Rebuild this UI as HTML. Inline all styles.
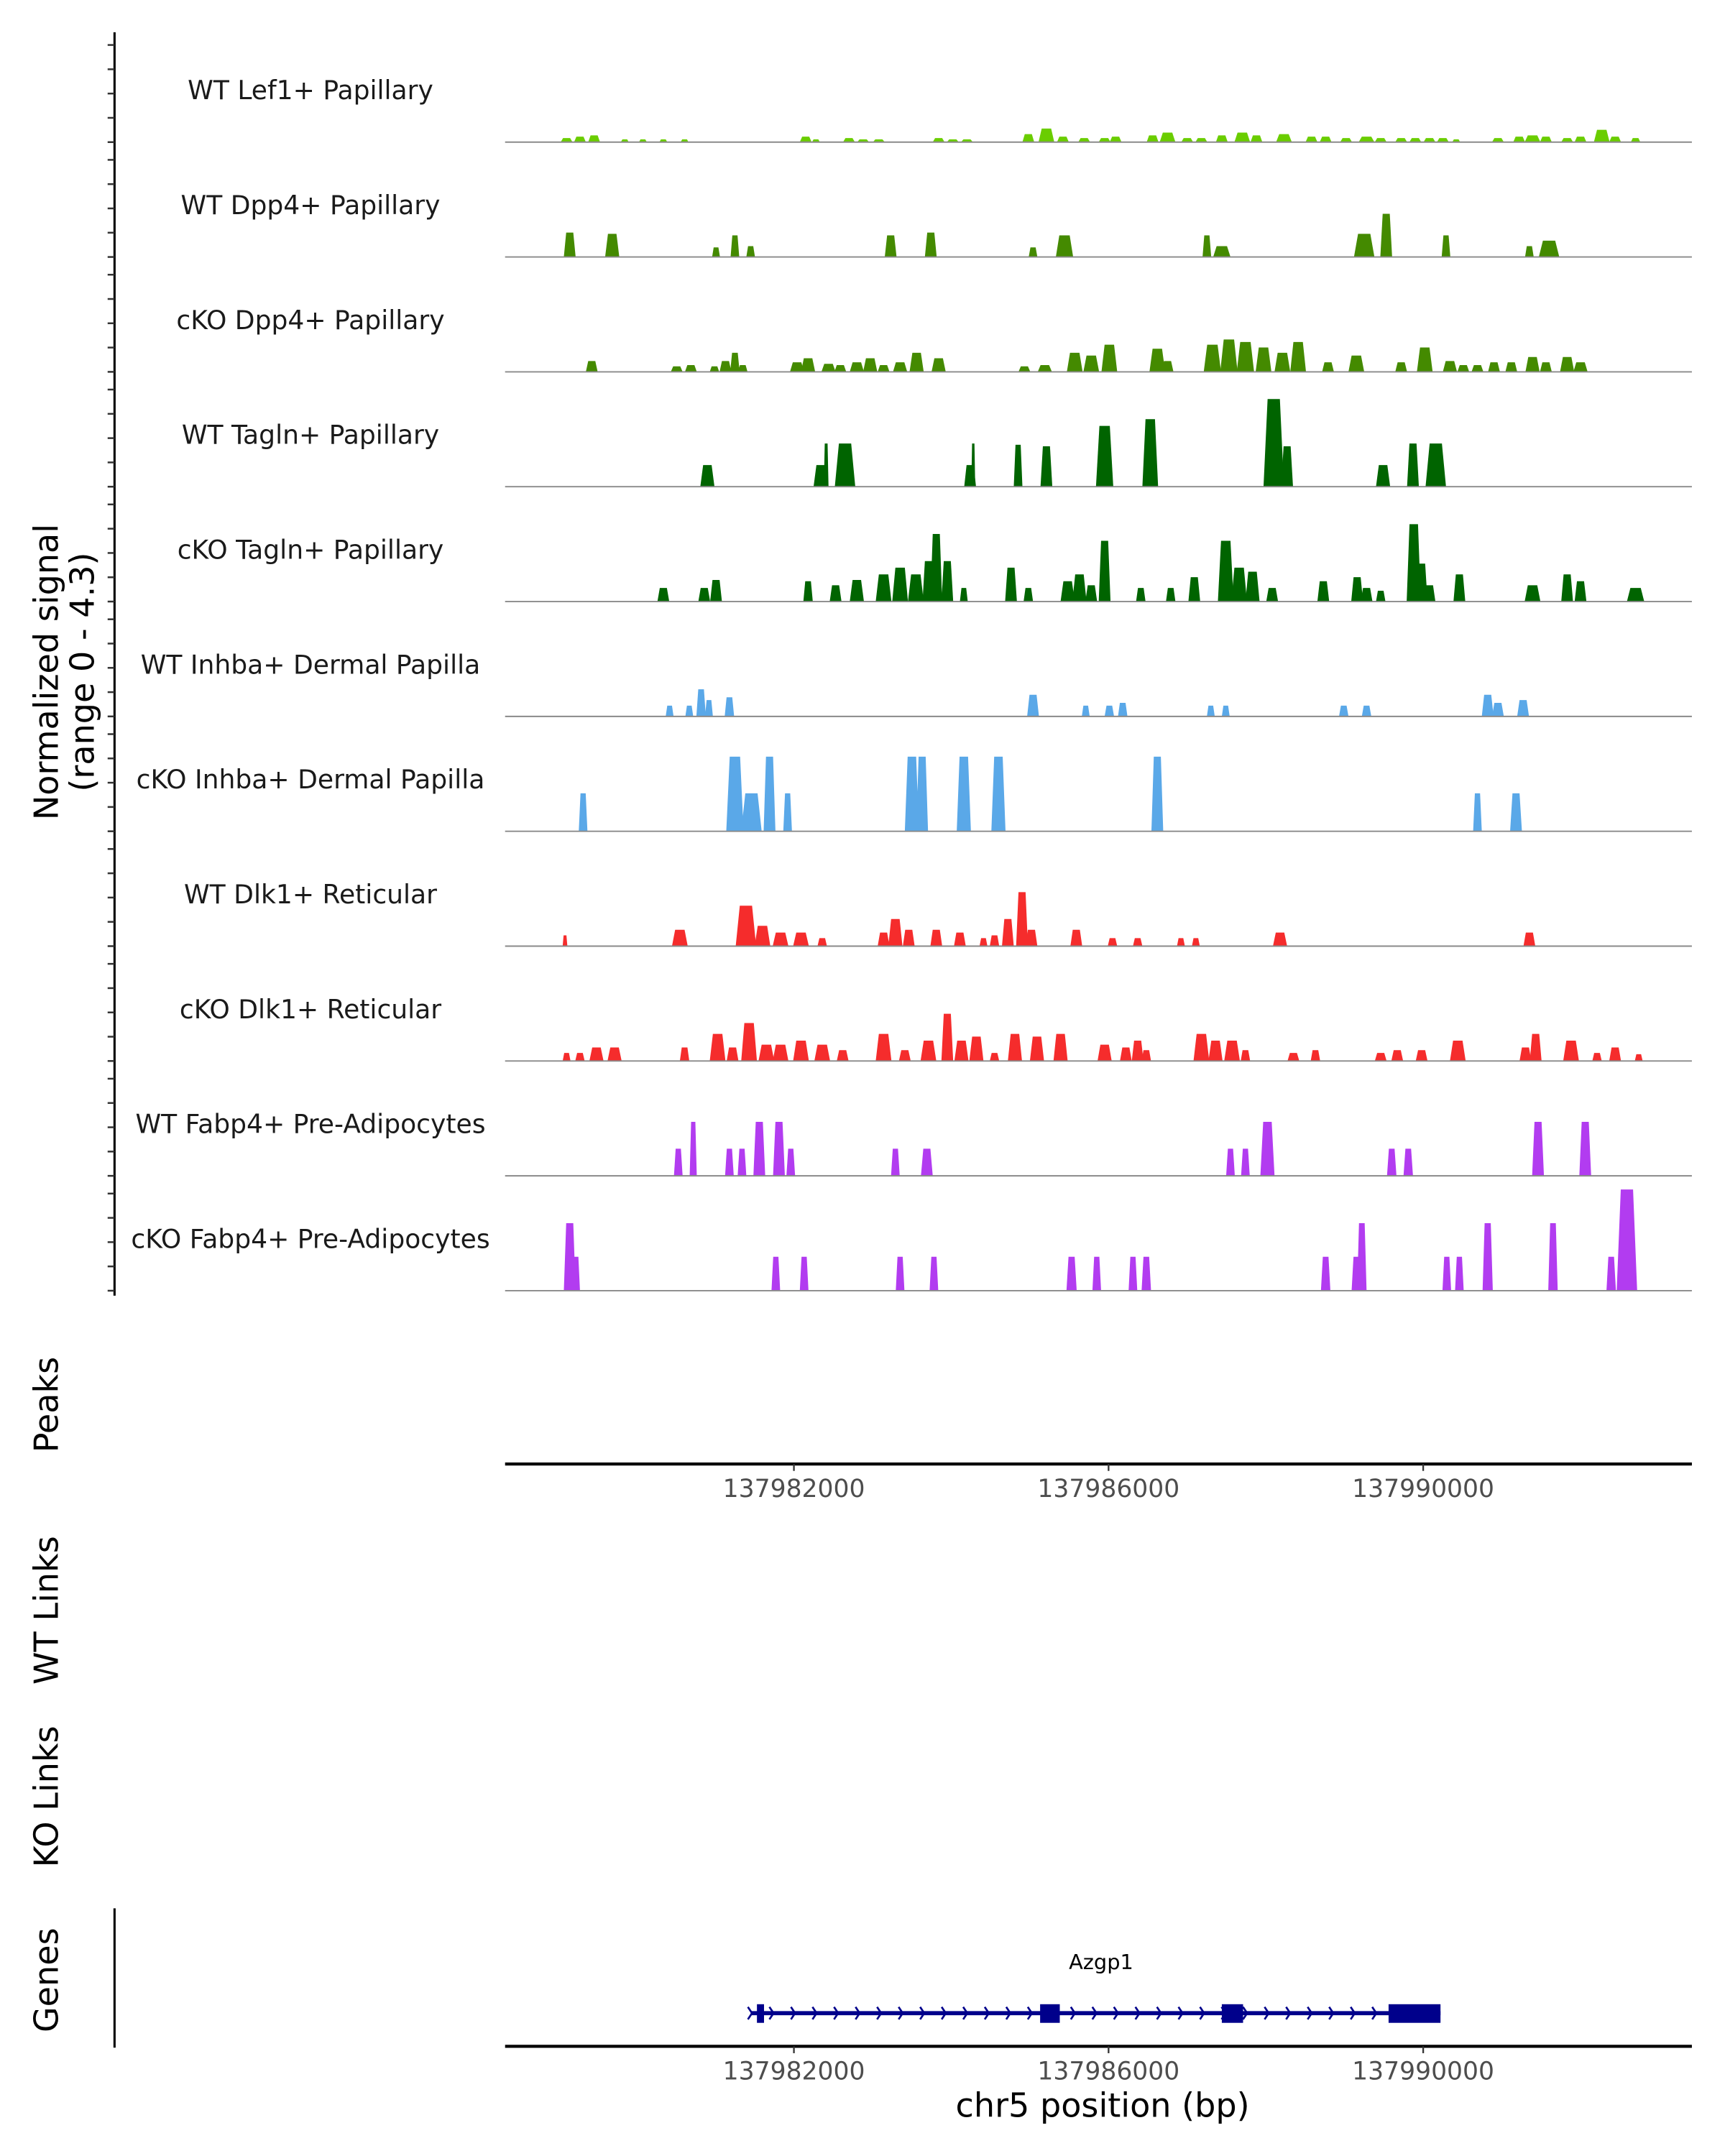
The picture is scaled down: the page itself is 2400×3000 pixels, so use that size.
<!DOCTYPE html>
<html><head><meta charset="utf-8"><style>
html,body{margin:0;padding:0;background:#fff;}
svg{display:block;font-family:"DejaVu Sans","Liberation Sans",sans-serif;}
</style></head><body>
<svg id="chart" width="2400" height="3000" viewBox="0 0 1250 1562.5" xmlns="http://www.w3.org/2000/svg">
<g id="axes"></g>
<g id="tracks"></g>
<g id="genes"></g>
</svg>
<script>
// positions in kb offset from 137,978,000 bp
const regionStartKb = 137978;
const xTicks = [137982000, 137986000, 137990000];
const trackNames = ["WT Lef1+ Papillary","WT Dpp4+ Papillary","cKO Dpp4+ Papillary","WT Tagln+ Papillary","cKO Tagln+ Papillary","WT Inhba+ Dermal Papilla","cKO Inhba+ Dermal Papilla","WT Dlk1+ Reticular","cKO Dlk1+ Reticular","WT Fabp4+ Pre-Adipocytes","cKO Fabp4+ Pre-Adipocytes"];
const trackColors = ["#6acd00","#448a00","#448a00","#006400","#006400","#5aa8e8","#5aa8e8","#f52c2c","#f52c2c","#b23cf0","#b23cf0"];
// each peak: [position kb, width kb, signal]
const lef1WT = [[1.11,0.15,0.16],[1.28,0.15,0.22],[1.46,0.15,0.27],[1.85,0.1,0.11],[2.08,0.1,0.11],[2.34,0.1,0.11],[2.61,0.1,0.11],[4.15,0.15,0.22],[4.28,0.1,0.11],[4.70,0.15,0.16],[4.88,0.15,0.11],[5.08,0.15,0.11],[5.84,0.15,0.16],[6.02,0.15,0.11],[6.20,0.15,0.11],[6.98,0.15,0.32],[7.21,0.2,0.54],[7.42,0.15,0.22],[7.69,0.15,0.16],[7.95,0.15,0.16],[8.09,0.15,0.22],[8.56,0.15,0.27],[8.75,0.2,0.38],[9.00,0.15,0.16],[9.18,0.15,0.16],[9.44,0.15,0.27],[9.70,0.2,0.38],[9.88,0.15,0.27],[10.23,0.2,0.32],[10.58,0.15,0.22],[10.76,0.15,0.22],[11.02,0.15,0.16],[11.28,0.2,0.22],[11.46,0.15,0.16],[11.72,0.15,0.16],[11.90,0.15,0.16],[12.08,0.15,0.16],[12.25,0.15,0.16],[12.42,0.1,0.11],[12.95,0.15,0.16],[13.22,0.15,0.22],[13.39,0.2,0.27],[13.56,0.15,0.22],[13.83,0.15,0.16],[14.00,0.15,0.22],[14.27,0.2,0.49],[14.44,0.15,0.22],[14.70,0.12,0.16]];
const dpp4WT = [[1.15,0.15,0.97],[1.69,0.18,0.92],[3.01,0.1,0.38],[3.25,0.11,0.86],[3.45,0.11,0.43],[5.23,0.15,0.86],[5.74,0.15,0.97],[7.04,0.11,0.38],[7.44,0.22,0.86],[9.25,0.11,0.86],[9.44,0.22,0.43],[11.25,0.26,0.92],[11.53,0.15,1.72],[12.29,0.11,0.86],[13.35,0.11,0.43],[13.60,0.26,0.65]];
const dpp4KO = [[1.43,0.15,0.43],[2.51,0.15,0.22],[2.69,0.15,0.27],[2.99,0.12,0.22],[3.13,0.15,0.43],[3.25,0.12,0.76],[3.35,0.12,0.27],[4.04,0.18,0.38],[4.18,0.18,0.54],[4.44,0.18,0.32],[4.59,0.15,0.27],[4.80,0.18,0.38],[4.97,0.18,0.54],[5.14,0.15,0.27],[5.35,0.18,0.38],[5.56,0.18,0.76],[5.84,0.18,0.54],[6.93,0.15,0.22],[7.19,0.18,0.27],[7.57,0.2,0.76],[7.78,0.2,0.65],[8.01,0.2,1.08],[8.62,0.2,0.92],[8.75,0.15,0.43],[9.32,0.22,1.08],[9.53,0.22,1.29],[9.74,0.22,1.19],[9.97,0.2,0.97],[10.21,0.2,0.76],[10.41,0.2,1.19],[10.79,0.15,0.38],[11.15,0.2,0.65],[11.72,0.15,0.38],[12.02,0.2,0.97],[12.34,0.18,0.43],[12.51,0.15,0.27],[12.69,0.15,0.27],[12.90,0.15,0.38],[13.12,0.15,0.38],[13.39,0.18,0.59],[13.56,0.15,0.38],[13.83,0.18,0.59],[14.00,0.18,0.38]];
const taglnWT = [[2.90,0.18,0.86],[4.34,0.18,0.86],[4.41,0.06,1.72],[4.65,0.26,1.72],[6.24,0.15,0.86],[6.28,0.05,1.72],[6.85,0.11,1.67],[7.21,0.15,1.61],[7.95,0.22,2.42],[8.53,0.2,2.69],[10.10,0.26,3.49],[10.27,0.15,1.61],[11.49,0.18,0.86],[11.87,0.15,1.72],[12.16,0.26,1.72]];
const taglnKO = [[2.34,0.15,0.54],[2.86,0.15,0.54],[3.01,0.15,0.86],[4.18,0.12,0.81],[4.53,0.15,0.65],[4.80,0.18,0.86],[5.14,0.2,1.08],[5.35,0.2,1.35],[5.55,0.2,1.08],[5.71,0.15,1.61],[5.81,0.15,2.69],[5.95,0.15,1.61],[6.16,0.1,0.54],[6.76,0.15,1.35],[6.98,0.12,0.54],[7.48,0.18,0.81],[7.63,0.18,1.08],[7.78,0.15,0.65],[7.95,0.15,2.42],[8.41,0.12,0.54],[8.79,0.12,0.54],[9.09,0.15,0.97],[9.49,0.2,2.42],[9.66,0.2,1.35],[9.83,0.18,1.19],[10.08,0.15,0.54],[10.73,0.15,0.81],[11.16,0.15,0.97],[11.28,0.15,0.54],[11.46,0.12,0.43],[11.88,0.18,3.08],[11.98,0.15,1.51],[12.08,0.15,0.65],[12.46,0.15,1.08],[13.39,0.2,0.65],[13.83,0.15,1.08],[14.00,0.15,0.81],[14.70,0.22,0.54]];
const inhbaWT = [[2.42,0.1,0.43],[2.67,0.1,0.43],[2.82,0.12,1.08],[2.92,0.1,0.65],[3.18,0.12,0.76],[7.04,0.15,0.86],[7.71,0.1,0.43],[8.01,0.12,0.43],[8.18,0.12,0.54],[9.30,0.1,0.43],[9.49,0.1,0.43],[10.99,0.12,0.43],[11.28,0.12,0.43],[12.82,0.15,0.86],[12.95,0.15,0.54],[13.27,0.15,0.65]];
const inhbaKO = [[1.32,0.11,1.51],[3.25,0.22,2.97],[3.46,0.26,1.51],[3.69,0.15,2.97],[3.92,0.11,1.51],[5.50,0.18,2.97],[5.63,0.15,2.97],[6.16,0.18,2.97],[6.60,0.18,2.97],[8.62,0.15,2.97],[12.69,0.11,1.51],[13.18,0.15,1.51]];
const dlk1WT = [[1.09,0.06,0.43],[2.55,0.2,0.65],[3.39,0.26,1.61],[3.60,0.2,0.81],[3.83,0.2,0.54],[4.09,0.2,0.54],[4.36,0.12,0.32],[5.14,0.15,0.54],[5.29,0.18,1.08],[5.46,0.15,0.65],[5.81,0.15,0.65],[6.11,0.15,0.54],[6.41,0.1,0.32],[6.55,0.12,0.43],[6.72,0.15,1.08],[6.90,0.15,2.15],[7.02,0.15,0.65],[7.59,0.15,0.65],[8.05,0.12,0.32],[8.37,0.12,0.32],[8.92,0.1,0.32],[9.11,0.1,0.32],[10.18,0.18,0.54],[13.35,0.15,0.54]];
const dlk1KO = [[1.11,0.1,0.32],[1.28,0.12,0.32],[1.49,0.18,0.54],[1.72,0.18,0.54],[2.61,0.12,0.54],[3.03,0.2,1.08],[3.22,0.15,0.54],[3.43,0.2,1.51],[3.65,0.2,0.65],[3.83,0.2,0.65],[4.09,0.2,0.81],[4.36,0.2,0.65],[4.62,0.15,0.43],[5.14,0.2,1.08],[5.41,0.15,0.43],[5.71,0.2,0.81],[5.95,0.15,1.88],[6.13,0.18,0.81],[6.32,0.18,0.97],[6.55,0.12,0.32],[6.81,0.18,1.08],[7.09,0.18,0.97],[7.39,0.18,1.08],[7.95,0.18,0.65],[8.22,0.15,0.54],[8.37,0.15,0.81],[8.48,0.12,0.43],[9.18,0.2,1.08],[9.36,0.18,0.81],[9.57,0.2,0.81],[9.74,0.12,0.43],[10.35,0.15,0.32],[10.63,0.12,0.43],[11.46,0.15,0.32],[11.67,0.15,0.43],[11.98,0.15,0.43],[12.44,0.2,0.81],[13.30,0.15,0.54],[13.43,0.15,1.08],[13.88,0.2,0.81],[14.21,0.12,0.32],[14.44,0.15,0.54],[14.74,0.1,0.27]];
const fabp4WT = [[2.53,0.11,1.08],[2.72,0.09,2.15],[3.18,0.11,1.08],[3.34,0.11,1.08],[3.56,0.15,2.15],[3.81,0.15,2.15],[3.96,0.11,1.08],[5.29,0.11,1.08],[5.69,0.15,1.08],[9.55,0.11,1.08],[9.74,0.11,1.08],[10.02,0.18,2.15],[11.60,0.12,1.08],[11.81,0.12,1.08],[13.46,0.15,2.15],[14.06,0.15,2.15]];
const fabp4KO = [[1.15,0.15,2.69],[1.23,0.1,1.35],[3.77,0.11,1.35],[4.13,0.11,1.35],[5.35,0.11,1.35],[5.78,0.11,1.35],[7.53,0.13,1.35],[7.85,0.11,1.35],[8.31,0.11,1.35],[8.48,0.12,1.35],[10.76,0.12,1.35],[11.15,0.12,1.35],[11.22,0.12,2.69],[12.30,0.11,1.35],[12.46,0.11,1.35],[12.82,0.13,2.69],[13.65,0.12,2.69],[14.39,0.12,1.35],[14.59,0.26,4.03]];
const trackData = [lef1WT,dpp4WT,dpp4KO,taglnWT,taglnKO,inhbaWT,inhbaKO,dlk1WT,dlk1KO,fabp4WT,fabp4KO];
// gene model (kb offset)
const geneName = "Azgp1";
const geneSpan = [3.45, 12.22];
const exonStarts = [3.53, 7.13, 9.44, 11.56];
const exonEnds = [3.62, 7.38, 9.71, 12.22];

const NS = "http://www.w3.org/2000/svg";
const X0 = 366, X1 = 1226;
const pxPerKb = 57.0, refKb = 4, refX = 575.3;
function xScale(kb){ return refX + (kb - refKb) * pxPerKb; }
function bpToKb(bp){ return bp/1000 - regionStartKb; }
const unitPx = 18.2;
function yScale(v, base){ return base - v*unitPx; }
function el(tag, attrs, parent, text){
  const e = document.createElementNS(NS, tag);
  for (const k in attrs) e.setAttribute(k, attrs[k]);
  if (text !== undefined) e.textContent = text;
  parent.appendChild(e);
  return e;
}
const axes = document.getElementById('axes');
const tracks = document.getElementById('tracks');
const genes = document.getElementById('genes');

let yl = el('line',{x1:83,y1:23.4,x2:83,y2:939,stroke:'#000','stroke-width':1.6},axes);



const base0 = 103, step = 83.24;
trackNames.forEach((name,i)=>{
  const base = base0 + i*step;
  const g = el('g',{},tracks);
  
  
  for (let t=0;t<=4;t++){
    const ty = base - t*17.6;
    const tk = el('line',{x1:78,y1:ty,x2:83,y2:ty,stroke:'#333','stroke-width':1.3},axes);
    
    
  }
  const lab = el('text',{x:225,y:base-31,'font-size':18.8,'text-anchor':'middle',fill:'#1a1a1a'},g,name);
  
  
  trackData[i].forEach(p=>{
    const xa = xScale(p[0]-p[1]/2), xb = xScale(p[0]+p[1]/2);
    const w = xb-xa, yt = yScale(p[2], base);
    const pts = [[xa,base],[xa+w*0.2,yt],[xb-w*0.2,yt],[xb,base]].map(q=>q.join(',')).join(' ');
    const poly = el('polygon',{points:pts,fill:trackColors[i]},g);
    
    
  });
  const bl = el('line',{x1:X0,y1:base,x2:X1,y2:base,stroke:'#8a8a8a','stroke-width':1},g);
  
  
});

function rotLabel(text, x, y, size, name){
  const t = el('text',{x:x,y:y,'font-size':size,'text-anchor':'middle',fill:'#000',transform:`rotate(-90 ${x} ${y})`},axes,text);
  
  
  return t;
}
rotLabel('Normalized signal',42,487,24,'y-axis-title');
rotLabel('(range 0 - 4.3)',68,487,24,'y-axis-subtitle');
rotLabel('Peaks',42,1018,24,'peaks-label');
rotLabel('WT Links',42,1167,24,'wt-links-label');
rotLabel('KO Links',42,1302,24,'ko-links-label');
rotLabel('Genes',42,1435,24,'genes-label');

function xAxis(y, name){
  const a = el('line',{x1:X0,y1:y,x2:X1,y2:y,stroke:'#000','stroke-width':2.2},axes);
  
  
  xTicks.forEach(t=>{
    const x = xScale(bpToKb(t));
    const tk = el('line',{x1:x,y1:y,x2:x,y2:y+5,stroke:'#333','stroke-width':1.2},axes);
    
    
    const tl = el('text',{x:x,y:y+24,'font-size':18,'text-anchor':'middle',fill:'#4d4d4d'},axes,String(t));
    
    
  });
}
xAxis(1061,'peaks-x-axis');
xAxis(1483,'genes-x-axis');
const xt = el('text',{x:799,y:1534,'font-size':24,'text-anchor':'middle',fill:'#000'},axes,'chr5 position (bp)');


const gl = el('line',{x1:83,y1:1383,x2:83,y2:1484,stroke:'#000','stroke-width':1.6},axes);



// gene
const gy = 1459;
const gname = el('text',{x:xScale((geneSpan[0]+geneSpan[1])/2)+4,y:1427,'font-size':15,'text-anchor':'middle',fill:'#000'},genes,geneName);


const gline = el('line',{x1:xScale(geneSpan[0]),y1:gy,x2:xScale(geneSpan[1]),y2:gy,stroke:'#00008b','stroke-width':3},genes);


for (let x = xScale(geneSpan[0]); x < xScale(geneSpan[1]) - 30; x += 15.6){
  const c = el('polyline',{points:`${x-2},${gy-4.5} ${x+1},${gy} ${x-2},${gy+4.5}`,fill:'none',stroke:'#00008b','stroke-width':1.4},genes);
  
  
}
exonStarts.forEach((s,i)=>{
  const xa = xScale(s), xb = xScale(exonEnds[i]);
  const r = el('rect',{x:xa,y:gy-6.5,width:Math.max(xb-xa,3),height:13.5,fill:'#00008b'},genes);
  
  
});
</script>
</body></html>
